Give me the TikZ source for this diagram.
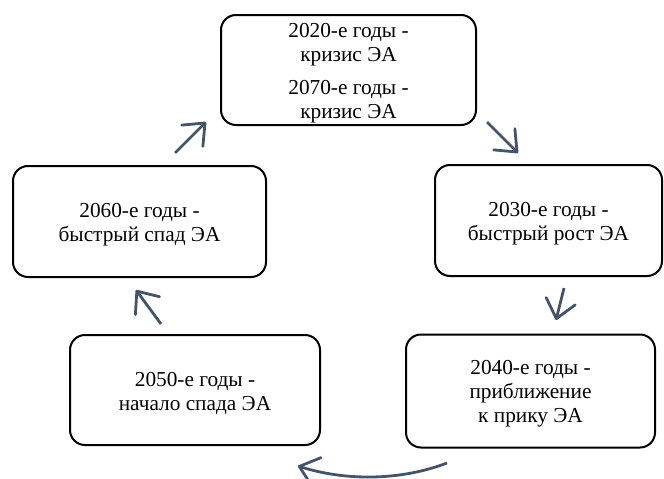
\documentclass[tikz,border=0pt]{standalone}
\usepackage{fontspec}
\setmainfont{Liberation Serif}
\usetikzlibrary{arrows.meta}
\definecolor{pfeilblau}{HTML}{44546A}
\tikzset{
	kasten/.style={draw, line width=2pt, rounded corners=15pt, inner sep=0pt},
	schrift/.style={align=center, inner sep=0pt, yshift=-3pt, font=\rmfamily\fontsize{21.3}{24}\selectfont},
	pfeil/.style={pfeilblau, line width=2.8pt, -{Straight Barb[length=18pt,width=30pt,round]}}
}
\begin{document}
\begin{tikzpicture}[x=1pt,y=-1pt]
	\useasboundingbox (0,0) rectangle (664,479);
	% Kästen
	\node [kasten, minimum width=255pt, minimum height=110pt] (k2020) at (348.5,70) {};
	\node [kasten, minimum width=227pt, minimum height=111pt] (k2030) at (548.5,220.5) {};
	\node [kasten, minimum width=249pt, minimum height=113pt] (k2040) at (530.5,391) {};
	\node [kasten, minimum width=250pt, minimum height=110pt] (k2050) at (195,390) {};
	\node [kasten, minimum width=253pt, minimum height=111pt] (k2060) at (139.5,221.5) {};
	% Texte
	\node [schrift] (t2020) at (k2020) {2020-е годы -\\ кризис ЭА\\[9pt] 2070-е годы -\\ кризис ЭА};
	\node [schrift] (t2030) at (k2030) {2030-е годы -\\ быстрый рост ЭА};
	\node [schrift] (t2040) at (k2040) {2040-е годы -\\ приближение\\ к прику ЭА};
	\node [schrift] (t2050) at (k2050) {2050-е годы -\\ начало спада ЭА};
	\node [schrift] (t2060) at (k2060) {2060-е годы -\\ быстрый спад ЭА};
	% Pfeile
	\coordinate (p1a) at (487,122);
	\coordinate (p1b) at (518,153);
	\coordinate (p2a) at (564,288);
	\coordinate (p2b) at (556,320);
	\coordinate (p3a) at (447,463);
	\coordinate (p3b) at (298,466);
	\coordinate (p4a) at (161,324);
	\coordinate (p4b) at (136,290);
	\coordinate (p5a) at (175,153);
	\coordinate (p5b) at (206,122);
	\draw [pfeil] (p1a) -- (p1b);
	\draw [pfeil] (p2a) -- (p2b);
	\draw [pfeil] (p3a) .. controls (400,481) and (345,481) .. (p3b);
	\draw [pfeil] (p4a) -- (p4b);
	\draw [pfeil] (p5a) -- (p5b);
\end{tikzpicture}
\end{document}
